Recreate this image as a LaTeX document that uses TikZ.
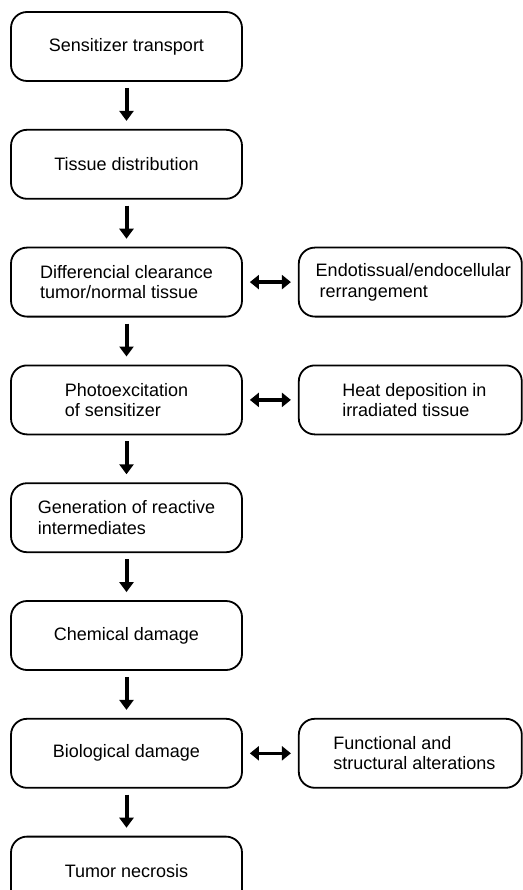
\documentclass[tikz,border=0pt]{standalone}
\usepackage{fontspec}
\setmainfont{Liberation Sans}
\usetikzlibrary{arrows.meta,positioning}

\begin{document}
\begin{tikzpicture}[
    node distance=47pt and 55pt,
    stage/.style={rectangle, draw, line width=1.8pt, minimum width=231pt, minimum height=69pt, align=left, rounded corners=16pt, inner sep=0pt, font=\fontsize{18}{20.5}\selectfont},
    side/.style={stage, minimum width=223pt},
    arrow/.style={-{Triangle[width=14pt,length=10pt]}, line width=4pt, shorten <=6pt, shorten >=8pt},
    dblarrow/.style={{Triangle[width=14pt,length=9pt]}-{Triangle[width=14pt,length=9pt]}, line width=3.5pt, shorten <=7pt, shorten >=7pt}
]
    \useasboundingbox (0,0) rectangle (522pt,-890pt);

    % Main chain
    \node[stage] (transport) at (126.5pt,-46.5pt) {Sensitizer transport};
    \node[stage, below=of transport] (distribution) {Tissue distribution};
    \node[stage, below=of distribution] (clearance) {Differencial clearance\\tumor/normal tissue};
    \node[stage, below=of clearance] (excitation) {Photoexcitation\\of sensitizer};
    \node[stage, below=of excitation] (intermediates) {Generation of reactive\\intermediates};
    \node[stage, below=of intermediates] (chemical) {Chemical damage};
    \node[stage, below=of chemical] (biological) {Biological damage};
    \node[stage, below=of biological] (necrosis) {Tumor necrosis};

    % Side effects
    \node[side, right=of clearance] (rearrange) {\hspace*{6pt}Endotissual/endocellular\\\hspace*{10pt}rerrangement};
    \node[side, right=of excitation] (heat) {\hspace*{8pt}Heat deposition in\\\hspace*{8pt}irradiated tissue};
    \node[side, right=of biological] (alterations) {\hspace*{8pt}Functional and\\\hspace*{8pt}structural alterations};

    % Arrows
    \draw[arrow] (transport) -- (distribution);
    \draw[arrow] (distribution) -- (clearance);
    \draw[arrow] (clearance) -- (excitation);
    \draw[arrow] (excitation) -- (intermediates);
    \draw[arrow] (intermediates) -- (chemical);
    \draw[arrow] (chemical) -- (biological);
    \draw[arrow] (biological) -- (necrosis);
    \draw[dblarrow] (clearance) -- (rearrange);
    \draw[dblarrow] (excitation) -- (heat);
    \draw[dblarrow] (biological) -- (alterations);

\end{tikzpicture}
\end{document}
